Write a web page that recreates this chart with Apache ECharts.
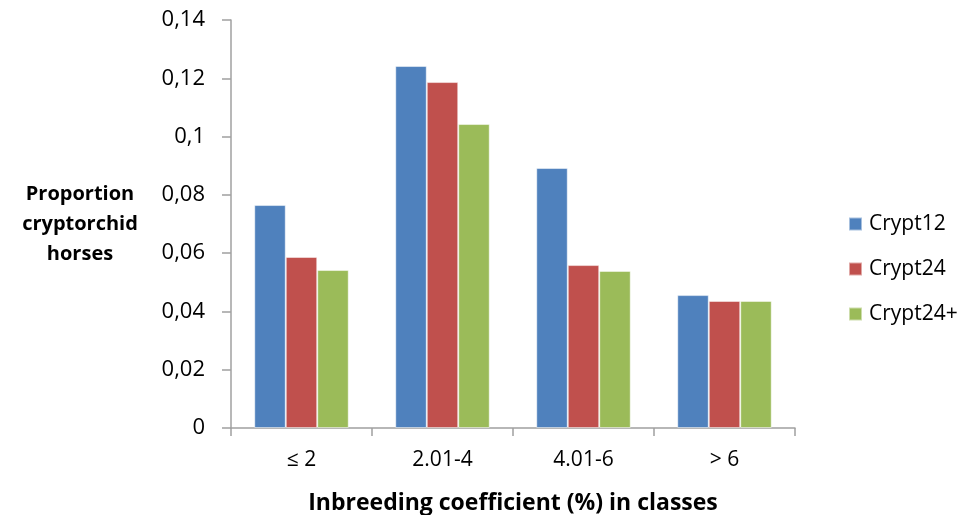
<!DOCTYPE html>
<html><head><meta charset="utf-8">
<script src="https://cdn.jsdelivr.net/npm/echarts@6/dist/echarts.min.js"></script>
<style>html,body{margin:0;padding:0;background:#fff}#c{width:960px;height:515px}</style>
</head><body><div id="c"></div>
<script>
const categories = ['≤ 2', '2.01-4', '4.01-6', '> 6'];
const crypt12 = [0.0765, 0.1242, 0.0892, 0.0456];
const crypt24 = [0.0587, 0.1187, 0.0559, 0.0436];
const crypt24p = [0.0542, 0.1043, 0.0539, 0.0436];
const yTicks = [0, 0.02, 0.04, 0.06, 0.08, 0.1, 0.12, 0.14];
const font = '"Open Sans", "Liberation Sans", sans-serif';
const chart = echarts.init(document.getElementById('c'));
function ser(name, data, color) {
  return { name, type: 'bar', data, barGap: '0%', barCategoryGap: '33%',
    itemStyle: { color, borderColor: 'rgba(255,255,255,0.5)', borderWidth: 1 } };
}
chart.setOption({
  animation: false,
  grid: { left: 231, right: 165, top: 20, bottom: 87, outerBoundsMode: 'none', containLabel: false },
  legend: { orient: 'vertical', left: 843, top: 205, itemWidth: 13, itemHeight: 13, itemGap: 17,
    icon: 'rect', textStyle: { fontFamily: font, fontSize: 21, color: '#000', padding: [0,0,0,2], lineHeight: 28 } },
  xAxis: { type: 'category', data: categories,
    axisLine: { lineStyle: { color: '#a0a0a0', width: 1.5 } },
    axisTick: { show: true, length: 8, lineStyle: { color: '#a0a0a0', width: 1.5 } },
    axisLabel: { fontFamily: font, fontSize: 21, color: '#000', margin: 22 },
    name: 'Inbreeding coefficient (%) in classes', nameLocation: 'middle', nameGap: 64,
    nameTextStyle: { fontFamily: font, fontSize: 23, fontWeight: 'bold', color: '#000' } },
  yAxis: { type: 'value', min: 0, max: 0.14, interval: 0.02,
    axisLine: { show: true, lineStyle: { color: '#a0a0a0', width: 1.5 } },
    axisTick: { show: true, length: 9, lineStyle: { color: '#a0a0a0', width: 1.5 } },
    splitLine: { show: false },
    axisLabel: { fontFamily: font, fontSize: 22, color: '#000', margin: 26,
      formatter: v => { const t = yTicks.find(x => Math.abs(x - v) < 1e-9); return String(+(t ?? v).toFixed(2)).replace('.', ','); } },
    name: 'Proportion\ncryptorchid\nhorses', nameLocation: 'middle', nameGap: 151, nameRotate: 0,
    nameTextStyle: { fontFamily: font, fontSize: 20, fontWeight: 'bold', color: '#000', lineHeight: 30, align: 'center' } },
  series: [ser('Crypt12', crypt12, '#4F81BD'), ser('Crypt24', crypt24, '#C0504D'), ser('Crypt24+', crypt24p, '#9BBB59')]
});
</script></body></html>
